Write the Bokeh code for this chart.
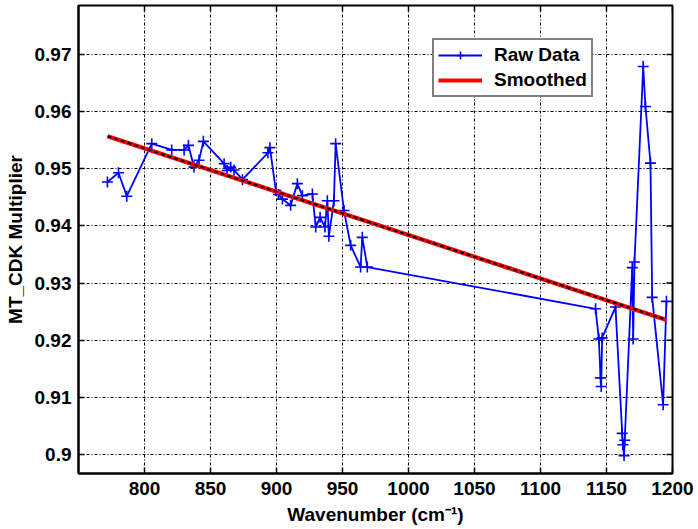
import math
from bokeh.plotting import figure
from bokeh.models import (Range1d, FixedTicker, Legend, LegendItem,
                          CustomJSTickFormatter)
from bokeh.embed import file_html
from bokeh.resources import INLINE

# ---- data ----
raw_x = [771.9, 780.3, 786.6, 805.5, 820.6, 830.0, 833.3, 837.5, 841.3, 844.6,
         860.3, 862.5, 865.3, 867.8, 874.2, 893.5, 895.0, 899.5, 901.5, 904.5,
         910.7, 915.8, 919.6, 927.2, 929.7, 933.0, 936.7, 938.5, 939.7, 943.5,
         944.8, 951.1, 956.2, 963.7, 965.0, 968.8, 1141.7, 1144.2, 1145.5, 1146.0,
         1146.7, 1156.8, 1161.9, 1162.4, 1163.3, 1163.8, 1169.5, 1170.2, 1171.2,
         1177.8, 1179.5, 1183.3, 1184.6, 1192.9, 1195.4]
raw_y = [0.9477, 0.9493, 0.9452, 0.9544, 0.9533, 0.9533, 0.9541, 0.9503, 0.9515, 0.9548,
         0.9509, 0.9497, 0.9503, 0.9498, 0.9481, 0.9528, 0.9537, 0.9462, 0.9455, 0.9447,
         0.9436, 0.9474, 0.9453, 0.9456, 0.9398, 0.9415, 0.9398, 0.9444, 0.9382, 0.9444,
         0.9544, 0.9427, 0.9366, 0.9328, 0.9380, 0.9328, 0.9255, 0.9202, 0.9134, 0.9119,
         0.9204, 0.9258, 0.9037, 0.9017, 0.8998, 0.9025, 0.9327, 0.9202, 0.9337,
         0.9679, 0.9609, 0.9510, 0.9275, 0.9087, 0.9268]

smooth_x = [772, 900, 1000, 1100, 1195]
smooth_y = [0.9557, 0.9460, 0.9384, 0.9308, 0.9236]

x_ticks = [800, 850, 900, 950, 1000, 1050, 1100, 1150, 1200]
y_ticks = [0.90, 0.91, 0.92, 0.93, 0.94, 0.95, 0.96, 0.97]

X_MIN, X_MAX = 750, 1200
Y_MIN, Y_MAX = 0.89667, 0.97858

FONT = "Liberation Sans"

p = figure(width=698, height=529, output_backend="svg", toolbar_location=None,
           x_range=Range1d(X_MIN, X_MAX), y_range=Range1d(Y_MIN, Y_MAX),
           min_border_left=78, min_border_right=26, min_border_top=5,
           min_border_bottom=56, background_fill_color="white",
           border_fill_color="white")

p.outline_line_color = "black"
p.outline_line_width = 2

for ax, ticks in ((p.xaxis[0], x_ticks), (p.yaxis[0], y_ticks)):
    ax.ticker = FixedTicker(ticks=ticks)
    ax.major_tick_in = 6
    ax.major_tick_out = 0
    ax.major_tick_line_width = 1.5
    ax.minor_tick_line_color = None
    ax.axis_line_width = 2
    ax.major_label_text_font = FONT
    ax.major_label_text_font_style = "bold"
    ax.major_label_text_font_size = "19px"
    ax.major_label_text_color = "black"
    ax.axis_label_text_font = FONT
    ax.axis_label_text_font_style = "bold"
    ax.axis_label_text_font_size = "19px"
    ax.axis_label_text_color = "black"

p.xaxis[0].major_label_standoff = 8
p.xaxis[0].axis_label_standoff = 6
p.yaxis[0].major_label_standoff = 7
p.yaxis[0].axis_label_standoff = 6
p.yaxis[0].formatter = CustomJSTickFormatter(code="return String(Number(tick.toFixed(2)));")
p.xaxis[0].axis_label = "Wavenumber (cm\u207b\u00b9)"
p.yaxis[0].axis_label = "MT_CDK Multiplier"

for g, ticks in ((p.xgrid[0], x_ticks), (p.ygrid[0], y_ticks)):
    g.ticker = FixedTicker(ticks=ticks)
    g.grid_line_color = "black"
    g.grid_line_dash = "3 2 1 2"
    g.grid_line_width = 1

# inward ticks on the right and top edges of the box
p.ray(x=[X_MAX] * len(y_ticks), y=y_ticks, length=6, length_units="screen",
      angle=math.pi, line_color="black", line_width=1.5)
p.ray(x=x_ticks, y=[Y_MAX] * len(x_ticks), length=6, length_units="screen",
      angle=-math.pi / 2, line_color="black", line_width=1.5)

raw_line = p.line(raw_x, raw_y, line_color="#0000ff", line_width=1.8)
raw_pts = p.scatter(raw_x, raw_y, marker="cross", size=11, line_color="#0000ff",
                    line_width=1.6)
sm_line = p.line(smooth_x, smooth_y, line_color="#ff0000", line_width=4.2)
p.line(smooth_x, smooth_y, line_color="black", line_width=2, line_dash="4 3")

legend = Legend(items=[LegendItem(label="Raw Data", renderers=[raw_line, raw_pts]),
                       LegendItem(label="Smoothed", renderers=[sm_line])],
                location=(354, 376), orientation="vertical")
legend.label_text_font = FONT
legend.label_text_font_style = "bold"
legend.label_text_font_size = "19px"
legend.label_text_color = "black"
legend.glyph_width = 44
legend.glyph_height = 20
legend.label_height = 20
legend.label_standoff = 12
legend.spacing = 3
legend.padding = 4
legend.margin = 0
legend.border_line_color = "black"
legend.border_line_width = 2
legend.background_fill_color = "white"
legend.background_fill_alpha = 1
p.add_layout(legend, "center")

open("out.html", "w").write(file_html(p, INLINE))
